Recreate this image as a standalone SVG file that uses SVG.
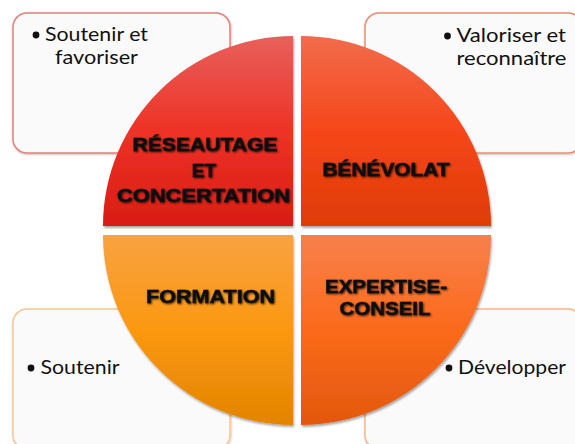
<svg xmlns="http://www.w3.org/2000/svg" width="575" height="444" viewBox="0 0 575 444">
<defs>
<linearGradient id="gTL" x1="0" y1="0" x2="0" y2="1"><stop offset="0" stop-color="#e8605b"/><stop offset="0.5" stop-color="#ee3226"/><stop offset="1" stop-color="#d91c15"/></linearGradient>
<linearGradient id="gTR" x1="0" y1="0" x2="0" y2="1"><stop offset="0" stop-color="#f26c4c"/><stop offset="0.5" stop-color="#f6461a"/><stop offset="1" stop-color="#df3c05"/></linearGradient>
<linearGradient id="gBL" x1="0" y1="0" x2="0" y2="1"><stop offset="0" stop-color="#f9a242"/><stop offset="0.5" stop-color="#fb9810"/><stop offset="1" stop-color="#e38400"/></linearGradient>
<linearGradient id="gBR" x1="0" y1="0" x2="0" y2="1"><stop offset="0" stop-color="#f8804c"/><stop offset="0.5" stop-color="#fb6a1a"/><stop offset="1" stop-color="#e2580e"/></linearGradient>
<filter id="qs" x="-10%" y="-10%" width="125%" height="125%"><feDropShadow dx="1" dy="2" stdDeviation="1.2" flood-color="#000" flood-opacity="0.35"/></filter>
<filter id="ts" x="-10%" y="-30%" width="125%" height="170%"><feDropShadow dx="1" dy="1" stdDeviation="1" flood-color="#000" flood-opacity="0.75"/></filter>
<filter id="bs" x="-10%" y="-10%" width="125%" height="125%"><feDropShadow dx="0.5" dy="1" stdDeviation="0.8" flood-color="#000" flood-opacity="0.25"/></filter>
</defs>
<style>
.box{fill:#fafafa;stroke-width:1.5}
.bt{font-family:Lato,"Noto Sans",sans-serif;font-size:20px;fill:#111}
.ql{font-family:"Liberation Sans",Arial,sans-serif;font-weight:bold;font-size:19px;fill:#111;stroke:#111;stroke-width:0.5;text-anchor:middle;filter:url(#ts)}
</style>
<g id="box-tl">
<rect class="box" x="13" y="13" width="217" height="140" rx="14" stroke="#e87e7a" filter="url(#bs)"/>
<circle cx="36" cy="35" r="3.4" fill="#111"/>
<text class="bt" x="45" y="41" textLength="103" lengthAdjust="spacingAndGlyphs">Soutenir et</text>
<text class="bt" x="55" y="64" textLength="83" lengthAdjust="spacingAndGlyphs">favoriser</text>
</g>
<g id="box-tr">
<rect class="box" x="365" y="13" width="217" height="140" rx="14" stroke="#ef8a72" filter="url(#bs)"/>
<circle cx="447.5" cy="36" r="3.4" fill="#111"/>
<text class="bt" x="456.5" y="42" textLength="109.5" lengthAdjust="spacingAndGlyphs">Valoriser et</text>
<text class="bt" x="456.5" y="65" textLength="110" lengthAdjust="spacingAndGlyphs">reconnaître</text>
</g>
<g id="box-bl">
<rect class="box" x="13" y="309" width="217" height="140" rx="14" stroke="#f8c88e" filter="url(#bs)"/>
<circle cx="31" cy="368" r="3.4" fill="#111"/>
<text class="bt" x="40.5" y="374" textLength="79" lengthAdjust="spacingAndGlyphs">Soutenir</text>
</g>
<g id="box-br">
<rect class="box" x="365" y="309" width="217" height="140" rx="14" stroke="#f8b88c" filter="url(#bs)"/>
<circle cx="449" cy="368" r="3.4" fill="#111"/>
<text class="bt" x="458" y="374" textLength="108" lengthAdjust="spacingAndGlyphs">Développer</text>
</g>
<g id="q-reseautage">
<path d="M293,226 L103,226 A190,190 0 0 1 293,36 Z" fill="url(#gTL)" filter="url(#qs)"/>
<text class="ql" x="205" y="151" textLength="145" lengthAdjust="spacingAndGlyphs">RÉSEAUTAGE</text>
<text class="ql" x="204" y="177">ET</text>
<text class="ql" x="203.5" y="202" textLength="173" lengthAdjust="spacingAndGlyphs">CONCERTATION</text>
</g>
<g id="q-benevolat">
<path d="M301,226 L301,36 A190,190 0 0 1 491,226 Z" fill="url(#gTR)" filter="url(#qs)"/>
<text class="ql" x="386" y="176" textLength="127" lengthAdjust="spacingAndGlyphs">BÉNÉVOLAT</text>
</g>
<g id="q-formation">
<path d="M293,235 L293,425 A190,190 0 0 1 103,235 Z" fill="url(#gBL)" filter="url(#qs)"/>
<text class="ql" x="210.5" y="303" textLength="129" lengthAdjust="spacingAndGlyphs">FORMATION</text>
</g>
<g id="q-expertise">
<path d="M301,235 L491,235 A190,190 0 0 1 301,425 Z" fill="url(#gBR)" filter="url(#qs)"/>
<text class="ql" x="386" y="293" textLength="122" lengthAdjust="spacingAndGlyphs">EXPERTISE-</text>
<text class="ql" x="385" y="315" textLength="91" lengthAdjust="spacingAndGlyphs">CONSEIL</text>
</g>
<g id="connectors"/>
</svg>
